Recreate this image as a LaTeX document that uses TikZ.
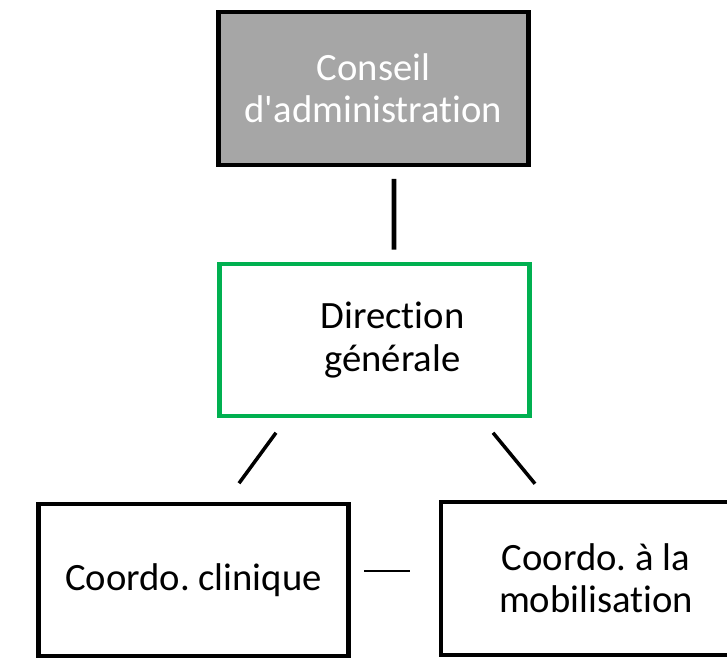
\documentclass[tikz,border=0pt]{standalone}
\usepackage{fontspec}
\setmainfont{Carlito}[Ligatures=NoCommon]
\usepackage{tikz}
\usetikzlibrary{arrows,shapes}
\definecolor{boardgray}{HTML}{A6A6A6}
\definecolor{dirgreen}{HTML}{00B050}
\frenchspacing

\begin{document}
\begin{tikzpicture}[auto]
		\tikzstyle{unit_box} = [rectangle, draw, line width=2.3pt, minimum width=6.2cm,
		minimum height=3.05cm, inner sep=0pt, align=center,
		font=\fontsize{22}{24}\selectfont]
		\tikzstyle{board_box} = [unit_box, fill=boardgray, text=white]
		\tikzstyle{green_box} = [unit_box, draw=dirgreen]
		\tikzstyle{link} = [line width=2pt]
		\useasboundingbox (0,0) rectangle (14.54,-13.18);
		\node[board_box] (conseil) at (7.47, -1.77) {Conseil\\d\textquotesingle administration};
		\node[green_box] (direction) at (7.49, -6.8) {};
		\node[align=center, font=\fontsize{22}{24}\selectfont] (direction_text)
		at (7.85, -6.8) {Direction\\générale};
		\node[unit_box] (clinique) at (3.87, -11.6) {Coordo. clinique};
		\node[unit_box] (mobilisation) at (11.92, -11.57) {Coordo. à la\\mobilisation};
		\draw[link, line width=2.8pt] ([xshift=.41cm, yshift=-.24cm]conseil.south) --
		([xshift=.39cm, yshift=.24cm]direction.north);
		\draw[link] ([xshift=1.17cm, yshift=-.29cm]direction.south west) --
		([xshift=.91cm, yshift=.37cm]clinique.north);
		\draw[link] ([xshift=-.77cm, yshift=-.29cm]direction.south east) --
		([xshift=-1.22cm, yshift=.33cm]mobilisation.north);
		\draw[line width=.8pt] ([xshift=.27cm, yshift=.18cm]clinique.east) --
		([xshift=-.57cm, yshift=.15cm]mobilisation.west);
	\end{tikzpicture}
\end{document}
